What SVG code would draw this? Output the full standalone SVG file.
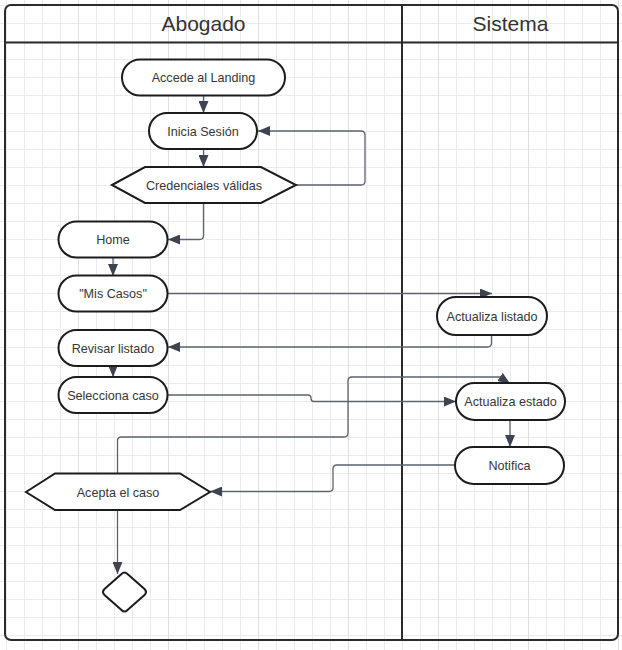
<svg xmlns="http://www.w3.org/2000/svg" width="622" height="650" viewBox="0 0 622 650">
  <defs>
    <pattern id="gridMinor" patternUnits="userSpaceOnUse" x="6" y="5" width="18" height="18">
      <path d="M0.5,0 V18 M0,0.5 H18" stroke="#ebebeb" stroke-width="1" fill="none"/>
    </pattern>
    <pattern id="gridMajor" patternUnits="userSpaceOnUse" x="78" y="0" width="90" height="18">
      <path d="M0.5,0 V18" stroke="#dfdfdf" stroke-width="1" fill="none"/>
    </pattern>
    <marker id="arrow" viewBox="0 0 12 10" refX="12" refY="5" markerWidth="12" markerHeight="10" markerUnits="userSpaceOnUse" orient="auto">
      <path d="M0,0 L12,5 L0,10 Z" fill="#3d4450"/>
    </marker>
    <style>
      .lane { fill: none; stroke: #2b2b2b; stroke-width: 2; }
      .title { font-family: "Liberation Sans", Arial, sans-serif; font-size: 21px; fill: #333333; text-anchor: middle; }
      .shape { fill: #ffffff; stroke: #1c1c1c; stroke-width: 2; }
      .label { font-family: "Liberation Sans", Arial, sans-serif; font-size: 12.6px; fill: #363636; text-anchor: middle; }
      .edge { fill: none; stroke: #5c636d; stroke-width: 1.3; marker-end: url(#arrow); }
    </style>
  </defs>

  <!-- canvas grid -->
  <rect x="0" y="0" width="622" height="650" fill="#ffffff"/>
  <rect x="0" y="0" width="622" height="650" fill="url(#gridMinor)"/>
  <rect x="0" y="0" width="622" height="650" fill="url(#gridMajor)"/>

  <!-- swimlane frame -->
  <g id="swimlanes">
    <rect class="lane" x="5" y="5" width="613" height="635" rx="6"/>
    <line class="lane" x1="5" y1="42.5" x2="618" y2="42.5"/>
    <line class="lane" x1="402" y1="5" x2="402" y2="640"/>
    <text class="title" x="203.5" y="31">Abogado</text>
    <text class="title" x="510.5" y="31">Sistema</text>
  </g>

  <!-- connectors -->
  <g id="connectors">
    <path class="edge" d="M203.5,95.5 V113"/>
    <path class="edge" d="M203.5,149 V167"/>
    <path class="edge" d="M296,185 H361 Q365,185 365,181 V135 Q365,131 361,131 H258"/>
    <path class="edge" d="M203.5,203 V235.5 Q203.5,239.5 199.5,239.5 H168"/>
    <path class="edge" d="M113,257.5 V276"/>
    <path class="edge" d="M167.5,293.5 H492"/>
    <path class="edge" d="M491.5,335 V343 Q491.5,347 487.5,347 H168"/>
    <path class="edge" d="M113,366 V377"/>
    <path class="edge" d="M167.5,395 H308 Q311,395 311,398 V398.5 Q311,401.5 314,401.5 H456"/>
    <path class="edge" d="M117.5,473.5 V441 Q117.5,437 121.5,437 H344 Q348,437 348,433 V381 Q348,377 352,377 H500 L510,383.5"/>
    <path class="edge" d="M510,420 V447"/>
    <path class="edge" d="M455,465 H337 Q333,465 333,469 V487.5 Q333,491.5 329,491.5 H210"/>
    <path class="edge" d="M117.5,510 V574"/>
  </g>

  <!-- Abogado lane -->
  <g id="accede-landing">
    <rect class="shape" x="122" y="59.5" width="163" height="36" rx="18"/>
    <text class="label" x="203.5" y="82">Accede al Landing</text>
  </g>
  <g id="inicia-sesion">
    <rect class="shape" x="149" y="113" width="108" height="36" rx="18"/>
    <text class="label" x="203" y="135.5">Inicia Sesión</text>
  </g>
  <g id="credenciales-validas">
    <polygon class="shape" points="112,185 145,167 261,167 296,185 261,203 145,203"/>
    <text class="label" x="204" y="189.5">Credenciales válidas</text>
  </g>
  <g id="home">
    <rect class="shape" x="58.5" y="221.5" width="109" height="36" rx="18"/>
    <text class="label" x="113" y="244">Home</text>
  </g>
  <g id="mis-casos">
    <rect class="shape" x="58.5" y="275.5" width="109" height="36" rx="18"/>
    <text class="label" x="113" y="298">"Mis Casos"</text>
  </g>
  <g id="revisar-listado">
    <rect class="shape" x="58.5" y="330" width="109" height="36" rx="18"/>
    <text class="label" x="113" y="352.5">Revisar listado</text>
  </g>
  <g id="selecciona-caso">
    <rect class="shape" x="58.5" y="377" width="109" height="36" rx="18"/>
    <text class="label" x="113" y="399.5">Selecciona caso</text>
  </g>
  <g id="acepta-caso">
    <polygon class="shape" points="26,492 55,473.5 180,473.5 210,492 180,510 55,510"/>
    <text class="label" x="118" y="496.5">Acepta el caso</text>
  </g>
  <g id="decision">
    <path class="shape" d="M121.5,574 Q124.5,571 127.5,574 L144.5,589 Q147.5,592 144.5,595 L127.5,610 Q124.5,613 121.5,610 L104.5,595 Q101.5,592 104.5,589 Z"/>
  </g>

  <!-- Sistema lane -->
  <g id="actualiza-listado">
    <rect class="shape" x="437" y="297" width="110" height="38" rx="19"/>
    <text class="label" x="492" y="320.5">Actualiza listado</text>
  </g>
  <g id="actualiza-estado">
    <rect class="shape" x="456" y="383" width="109" height="37" rx="18.5"/>
    <text class="label" x="510.5" y="406">Actualiza estado</text>
  </g>
  <g id="notifica">
    <rect class="shape" x="455" y="447" width="109" height="37" rx="18.5"/>
    <text class="label" x="509.5" y="470">Notifica</text>
  </g>
</svg>
